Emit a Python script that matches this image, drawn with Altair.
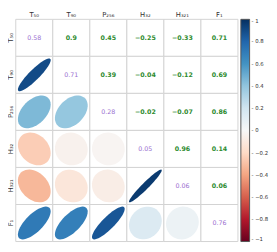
import numpy as np
import pandas as pd
import altair as alt

labels = ["T₅₀", "T₉₀", "P₂₅₆", "H₃₂", "H₃₂₁", "F₁"]
# upper-triangle correlations, row by row
corr_rows = [
    [0.9, 0.45, -0.25, -0.33, 0.71],
    [0.39, -0.04, -0.12, 0.69],
    [-0.02, -0.07, 0.86],
    [0.96, 0.14],
    [0.06],
]
diag_values = [0.58, 0.71, 0.28, 0.05, 0.06, 0.76]
legend_ticks = [1, 0.8, 0.6, 0.4, 0.2, 0, -0.2, -0.4, -0.6, -0.8, -1]
rdbu = ["#67001f", "#b2182b", "#d6604d", "#f4a582", "#fddbc7", "#f7f7f7",
        "#d1e5f0", "#92c5de", "#4393c3", "#2166ac", "#053061"]

n = len(labels)
M = np.eye(n)
for i, row in enumerate(corr_rows):
    for k, v in enumerate(row):
        j = i + 1 + k
        M[i, j] = v
        M[j, i] = v


def ellipse_path(r, npts=48):
    d = np.arccos(np.clip(r, -0.999, 0.999))
    t = np.linspace(0, 2 * np.pi, npts, endpoint=False)
    x = np.cos(t + d / 2)
    y = -np.cos(t - d / 2)
    pts = " L".join(f"{a:.3f},{b:.3f}" for a, b in zip(x, y))
    return "M" + pts + " Z"


cells, upper, diag, lower = [], [], [], []
for i in range(n):
    for j in range(n):
        cells.append({"row": labels[i], "col": labels[j]})
        if j > i:
            upper.append({"row": labels[i], "col": labels[j], "r": M[i, j],
                          "txt": f"{M[i, j]:g}".replace("-", "\u2212")})
        elif j == i:
            diag.append({"row": labels[i], "col": labels[j], "txt": f"{diag_values[i]:g}"})
        else:
            lower.append({"row": labels[i], "col": labels[j], "r": M[i, j],
                          "path": ellipse_path(M[i, j])})

W = 229
xs = alt.X("col:N", sort=labels, scale=alt.Scale(domain=labels, paddingInner=0, paddingOuter=0),
           axis=alt.Axis(orient="top", title=None, ticks=False, domain=False, labelAngle=0,
                         labelFontSize=7, labelColor="#333", labelPadding=2, labelFont="DejaVu Sans"))
ys = alt.Y("row:N", sort=labels, scale=alt.Scale(domain=labels, paddingInner=0, paddingOuter=0),
           axis=alt.Axis(title=None, ticks=False, domain=False, labelAngle=270, labelAlign="center",
                         labelBaseline="bottom", labelFontSize=7, labelColor="#333", labelPadding=2,
                         labelFont="DejaVu Sans"))

grid = alt.Chart(pd.DataFrame(cells)).mark_rect(fill="white", stroke="#d3d3d3", strokeWidth=1).encode(
    x=xs, y=ys)

ell = alt.Chart(pd.DataFrame(lower)).mark_point(filled=True, opacity=1, size=1140, strokeWidth=0).encode(
    x=xs, y=ys,
    shape=alt.Shape("path:N", scale=None),
    color=alt.Color("r:Q", scale=alt.Scale(domain=list(np.linspace(-1, 1, len(rdbu))), range=rdbu,
                                           interpolate="rgb"),
                    legend=alt.Legend(title=None, orient="right", direction="vertical",
                                      gradientLength=W, gradientThickness=9, offset=3, padding=0,
                                      gradientStrokeColor="#555", gradientStrokeWidth=1,
                                      values=legend_ticks,
                                      labelFontSize=5.5, labelColor="#333", labelOffset=2,
                                      labelFont="DejaVu Sans",
                                      labelExpr="'- ' + format(datum.value, '~g')")),
)

up = alt.Chart(pd.DataFrame(upper)).mark_text(fontSize=6.5, fontWeight="bold", color="#2e8b2e",
                                               font="DejaVu Sans").encode(x=xs, y=ys, text="txt:N")
dg = alt.Chart(pd.DataFrame(diag)).mark_text(fontSize=6.5, color="#9a6fd0",
                                             font="DejaVu Sans").encode(x=xs, y=ys, text="txt:N")

chart = alt.layer(grid, ell, up, dg).properties(
    width=W, height=W,
    autosize=alt.AutoSizeParams(type="none"),
    padding={"left": 8, "top": 8, "right": 32, "bottom": 3},
).configure_view(stroke=None)

chart.save("out.html", embed_options={"renderer": "svg", "actions": False})
